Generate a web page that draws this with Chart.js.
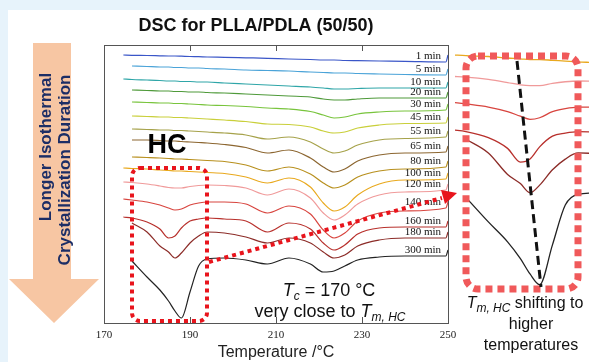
<!DOCTYPE html>
<html>
<head>
<meta charset="utf-8">
<script src="https://cdn.jsdelivr.net/npm/chart.js@4.4.0/dist/chart.umd.min.js"></script>
<style>
  body { margin: 0; background: #e7f3fb; }
  #wrap { position: relative; width: 589px; height: 362px; overflow: hidden; }
  #paper { position: absolute; left: 8px; top: 10px; width: 581px; height: 352px; background: #fff; }
  #main { position: absolute; left: 0; top: 0; }
  #zoom { position: absolute; left: 455px; top: 45px; }
</style>
</head>
<body>
<div id="wrap">
  <div id="paper"></div>
  <canvas id="main" width="589" height="362"></canvas>
  <canvas id="zoom" width="134" height="255"></canvas>
</div>
<script>
// temperatures (°C) where each DSC trace was read
const temps = [174.5, 176.5, 180, 183, 185, 186.5, 188, 190, 192, 194, 198, 203, 208, 213, 218, 221, 223.5, 226, 229, 234, 240, 249.5, 250];
const durations = ['1 min', '5 min', '10 min', '20 min', '30 min', '45 min', '55 min', '65 min', '80 min',
  '100 min', '120 min', '140 min', '160 min', '180 min', '300 min'];
const xTicks = [170, 190, 210, 230, 250];

// endothermic heat flow (a.u., stacked, larger = lower on the plot)
const heat1 = [10, 10.3, 10.5, 10.8, 11, 11, 11.2, 11.5, 11.7, 12, 12.3, 12.8, 13.3, 14, 14.5, 15, 15, 15.5, 15.7, 16, 16.3, 17, 10];
const heat5 = [null, 21, 21.5, 22, 22, 22.5, 22.5, 23, 23, 23.5, 24, 25, 25.5, 26, 27, 27.5, 28, 28, 28.5, 29, 29.5, 30, 24];
const heat10 = [34, 34.5, 35, 35.5, 36, 36, 36.5, 36.5, 37, 37, 38, 39, 40, 41, 42, 43, 44, 44, 43.5, 43, 43, 43, 37];
const heat20 = [null, 45, 45.5, 46, 46, 46.5, 46.5, 47, 47, 47.5, 48, 49, 50, 51, 52, 54, 55, 55, 54, 53, 53, 53, 47];
const heat30 = [null, 57, 57.5, 58, 58, 58.5, 58.5, 59, 59.5, 60, 60.5, 61.5, 63, 64, 66.5, 70, 73, 72, 69, 67, 66, 65, 59];
const heat45 = [null, 71, 71.5, 72, 72, 72.5, 72.5, 73, 73.5, 74, 75, 76.5, 79, 79.5, 82, 86, 88, 87, 83, 80, 78.5, 78, 72];
const heat55 = [null, 84, 84.5, 85, 85, 85.5, 85.5, 86, 86.5, 87, 88, 90, 94, 92, 97, 104, 108, 106, 100, 95, 93.5, 92, 86];
const heat65 = [null, 95, 95, 95.5, 96, 96, 96.5, 97, 97.5, 98, 99.5, 102.5, 108, 105, 113, 122, 127, 124, 116, 110, 108, 107, 101];
const heat80 = [null, 112, 112.5, 113, 113.5, 114, 114, 114.5, 115, 115.5, 116.5, 120, 126, 122, 129, 138, 143, 140, 132, 126, 124, 122, 116];
const heat100 = [123, 123.5, 124, 125, 125.5, 126, 126, 126.5, 127, 127.5, 128.5, 132, 138, 133, 142, 158, 166, 162, 150, 139, 135, 134, 128];
const heat120 = [137, 137.5, 139, 141, 142.5, 143, 143, 141.5, 140.5, 140, 140.5, 143, 150, 144, 153, 168, 175, 170, 159, 150, 147, 145, 139];
const heat140 = [154, 155, 157, 160, 163, 165, 164, 160, 158, 157, 157, 159, 168, 161, 169, 185, 193, 188, 176, 168, 166, 163, 157];
const heat160 = [172, 173, 177, 184, 193, 191, 183, 176, 174, 173, 174, 176, 187, 178, 184, 198, 205, 200, 189, 183, 182, 182, 176];
const heat180 = [null, 178, 187, 201, 207, 213, 208, 198, 191, 187, 188, 192, 198, 193, 198, 207, 213, 210, 201, 195, 193, 193, 187];
const heat300 = [null, 216, 232, 245, 256, 266, 273, 247, 221, 214, 213, 215, 219, 213, 219, 227, 226, 221, 215, 212, 211, 211, 205];

const series = [heat1, heat5, heat10, heat20, heat30, heat45, heat55, heat65, heat80,
  heat100, heat120, heat140, heat160, heat180, heat300];
const lineColors = ['#3a56c8', '#4aa3d8', '#2fa6a8', '#4f9a3a', '#78c43c', '#c9cf3a', '#a6a24a', '#8c6630',
  '#b8901e', '#e9a91e', '#f09a9a', '#d8453f', '#b8302c', '#8c2c28', '#222222'];

const SANS = '"Liberation Sans", Arial, sans-serif';
const SERIF = '"Liberation Serif", "Times New Roman", serif';

function makeDatasets(from, width) {
  return series.slice(from).map((arr, k) => ({
    label: durations[from + k],
    data: temps.map((t, i) => ({ x: t, y: arr[i] })),
    borderColor: lineColors[from + k],
    borderWidth: width,
    pointRadius: 0,
    fill: false,
    cubicInterpolationMode: 'monotone'
  }));
}

function richText(ctx, parts, x, y, align) {
  let w = 0;
  parts.forEach(p => { ctx.font = p.font; p.w = ctx.measureText(p.text).width; w += p.w; });
  let cx = align === 'center' ? x - w / 2 : x;
  ctx.textAlign = 'left';
  ctx.textBaseline = 'alphabetic';
  parts.forEach(p => { ctx.font = p.font; ctx.fillText(p.text, cx, y + (p.dy || 0)); cx += p.w; });
}

function dottedRoundRect(ctx, x, y, w, h, r, lw, dash, color) {
  ctx.save();
  ctx.strokeStyle = color;
  ctx.lineWidth = lw;
  ctx.setLineDash(dash);
  ctx.beginPath();
  ctx.roundRect(x, y, w, h, r);
  ctx.stroke();
  ctx.restore();
}

const mainDeco = {
  id: 'mainDeco',
  afterDatasetsDraw(chart) {
    const ctx = chart.ctx;
    const a = chart.chartArea;
    const xs = chart.scales.x;
    ctx.save();
    // frame + inward ticks
    ctx.strokeStyle = '#555';
    ctx.lineWidth = 1;
    ctx.strokeRect(a.left + 0.5, a.top + 0.5, a.right - a.left, a.bottom - a.top);
    xTicks.slice(1, -1).forEach(v => {
      const px = Math.round(xs.getPixelForValue(v)) + 0.5;
      ctx.beginPath();
      ctx.moveTo(px, a.top); ctx.lineTo(px, a.top + 6);
      ctx.moveTo(px, a.bottom); ctx.lineTo(px, a.bottom - 6);
      ctx.stroke();
    });
    // duration labels at the right end of each trace
    ctx.fillStyle = '#111';
    ctx.font = '11px ' + SERIF;
    ctx.textAlign = 'right';
    ctx.textBaseline = 'alphabetic';
    durations.forEach((d, i) => {
      const pt = chart.getDatasetMeta(i).data[temps.length - 2];
      ctx.fillText(d, 441, pt.y - 3);
    });
    ctx.restore();
  },
  afterDraw(chart) {
    const ctx = chart.ctx;
    ctx.save();
    // title
    ctx.fillStyle = '#111';
    ctx.font = 'bold 18px ' + SANS;
    ctx.textAlign = 'center';
    ctx.textBaseline = 'middle';
    ctx.fillText('DSC for PLLA/PDLA (50/50)', 256, 26);

    // left arrow
    ctx.fillStyle = '#f7c6a3';
    ctx.beginPath();
    ctx.moveTo(33, 43); ctx.lineTo(71, 43); ctx.lineTo(71, 279); ctx.lineTo(99, 279);
    ctx.lineTo(54, 323); ctx.lineTo(9, 279); ctx.lineTo(33, 279); ctx.closePath();
    ctx.fill();
    ctx.fillStyle = '#1c2e66';
    ctx.font = 'bold 17px ' + SANS;
    ctx.textBaseline = 'middle';
    ctx.save(); ctx.translate(46, 147); ctx.rotate(-Math.PI / 2);
    ctx.fillText('Longer Isothermal', 0, 0); ctx.restore();
    ctx.save(); ctx.translate(65, 170); ctx.rotate(-Math.PI / 2);
    ctx.fillText('Crystallization Duration', 0, 0); ctx.restore();

    // HC label
    ctx.fillStyle = '#000';
    ctx.font = 'bold 27px ' + SANS;
    ctx.fillText('HC', 167, 146);

    // red dotted box around the HC melting region
    dottedRoundRect(ctx, 132, 168, 75, 153, 8, 4, [4, 4], '#e8141c');

    // dotted arrow towards the magnified inset
    ctx.strokeStyle = '#e8141c';
    ctx.lineWidth = 4;
    ctx.setLineDash([4, 4]);
    ctx.beginPath();
    ctx.moveTo(209, 262); ctx.lineTo(442, 198);
    ctx.stroke();
    ctx.setLineDash([]);
    ctx.fillStyle = '#e8141c';
    ctx.beginPath();
    ctx.moveTo(457, 193); ctx.lineTo(441, 190); ctx.lineTo(445, 204); ctx.closePath();
    ctx.fill();

    // Tc note
    ctx.fillStyle = '#111';
    richText(ctx, [
      { text: 'T', font: 'italic 18px ' + SANS },
      { text: 'c', font: 'italic 12px ' + SANS, dy: 4 },
      { text: ' = 170 °C', font: '18px ' + SANS }
    ], 329, 296, 'center');
    richText(ctx, [
      { text: 'very close to ', font: '18px ' + SANS },
      { text: 'T', font: 'italic 18px ' + SANS },
      { text: 'm, HC', font: 'italic 12px ' + SANS, dy: 4 }
    ], 330, 317, 'center');

    // inset caption
    richText(ctx, [
      { text: 'T', font: 'italic 16px ' + SANS },
      { text: 'm, HC', font: 'italic 12px ' + SANS, dy: 4 },
      { text: ' shifting to', font: '16px ' + SANS }
    ], 525, 308, 'center');
    ctx.font = '16px ' + SANS;
    ctx.textAlign = 'center';
    ctx.textBaseline = 'alphabetic';
    ctx.fillText('higher', 531, 329);
    ctx.fillText('temperatures', 531, 350);
    ctx.restore();
  }
};

new Chart(document.getElementById('main'), {
  type: 'line',
  data: { datasets: makeDatasets(0, 1.2) },
  options: {
    responsive: false,
    animation: false,
    layout: { padding: { left: 104, right: 141, top: 45, bottom: 0 } },
    plugins: { legend: { display: false }, tooltip: { enabled: false } },
    scales: {
      x: {
        type: 'linear',
        min: 170,
        max: 250,
        afterFit(scale) { scale.height = 39; },
        afterBuildTicks(scale) { scale.ticks = xTicks.map(v => ({ value: v })); },
        grid: { display: false, drawTicks: false },
        border: { display: false },
        ticks: { padding: 6, color: '#222', font: { family: SERIF, size: 11 }, maxRotation: 0, autoSkip: false },
        title: { display: true, text: 'Temperature /°C', color: '#222', font: { family: SANS, size: 16 }, padding: 0 }
      },
      y: { display: false, min: 0, max: 278, reverse: true }
    }
  },
  plugins: [mainDeco]
});

// magnified view of the HC melting peaks (100-300 min)
const zoomDeco = {
  id: 'zoomDeco',
  afterDraw(chart) {
    const ctx = chart.ctx;
    ctx.save();
    dottedRoundRect(ctx, 11, 11, 112, 233, 12, 7, [7, 5], '#f0595a');
    ctx.strokeStyle = '#111';
    ctx.lineWidth = 3;
    ctx.setLineDash([9, 5]);
    ctx.beginPath();
    ctx.moveTo(62, 16); ctx.lineTo(86, 242);
    ctx.stroke();
    ctx.restore();
  }
};

new Chart(document.getElementById('zoom'), {
  type: 'line',
  data: { datasets: makeDatasets(9, 1.3) },
  options: {
    responsive: false,
    animation: false,
    layout: { padding: 0 },
    plugins: { legend: { display: false }, tooltip: { enabled: false } },
    scales: {
      x: { type: 'linear', display: false, min: 174.8, max: 195.7 },
      y: { display: false, min: 116.5, max: 283, reverse: true }
    }
  },
  plugins: [zoomDeco]
});
</script>
</body>
</html>
